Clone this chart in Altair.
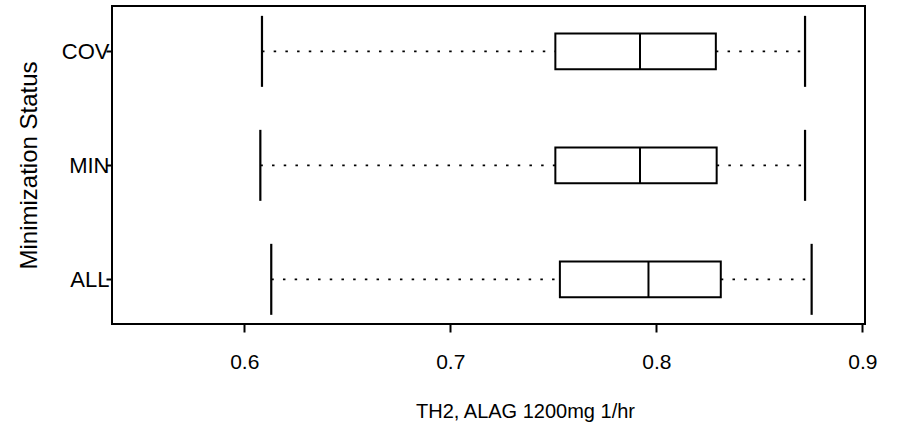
import altair as alt
import pandas as pd

groups = ["ALL", "MIN", "COV"]
group_pos = [1, 2, 3]
lower = [0.6131, 0.6078, 0.6086]
q1 = [0.7532, 0.7510, 0.7510]
median = [0.7962, 0.7921, 0.7921]
q3 = [0.8313, 0.8293, 0.8289]
upper = [0.8754, 0.8722, 0.8722]
x_ticks = [0.6, 0.7, 0.8, 0.9]

df = pd.DataFrame({"group": groups, "pos": group_pos, "lower": lower,
                   "q1": q1, "median": median, "q3": q3, "upper": upper})

FONT = "Liberation Sans"
W, H = 753, 318

xs = alt.Scale(domain=[0.5358, 0.9013], nice=False, zero=False)
ys = alt.Scale(domain=[0.652, 3.354], nice=False, zero=False)

label_expr = "datum.value == 1 ? 'ALL' : datum.value == 2 ? 'MIN' : 'COV'"

base = alt.Chart(df)

xax = alt.Axis(values=x_ticks, format=".1f", title="TH2, ALAG 1200mg 1/hr",
               tickSize=8, tickWidth=2, tickColor="black", domain=False, grid=False,
               labelFontSize=21, labelFont=FONT, labelColor="black", labelPadding=19,
               titleFontSize=20, titleFont=FONT, titleColor="black", titleFontWeight="normal",
               titleX=413, titleY=87, titleBaseline="middle", titleAlign="center")
yax = alt.Axis(values=group_pos, labelExpr=label_expr, title="Minimization Status",
               tickSize=6, tickWidth=2, tickColor="black", domain=False, grid=False,
               labelFontSize=22, labelFont=FONT, labelColor="black", labelPadding=-3,
               titleFontSize=24, titleFont=FONT, titleColor="black", titleFontWeight="normal",
               titleX=-83, titleY=159, titleBaseline="middle", titleAlign="center", titleAngle=270)

rule_lo = base.mark_rule(color="black", strokeWidth=1.6, strokeDash=[2.5, 9.2]).encode(
    x=alt.X("lower:Q", scale=xs, axis=xax), x2="q1:Q",
    y=alt.Y("pos:Q", scale=ys, axis=yax))
rule_hi = base.mark_rule(color="black", strokeWidth=1.6, strokeDash=[2.5, 9.2]).encode(
    x=alt.X("q3:Q", scale=xs), x2="upper:Q", y=alt.Y("pos:Q", scale=ys))
box = base.mark_bar(fill="white", stroke="black", strokeWidth=2, size=35.6, opacity=1).encode(
    x=alt.X("q1:Q", scale=xs), x2="q3:Q", y=alt.Y("pos:Q", scale=ys))
med = base.mark_tick(orient="vertical", color="black", thickness=2, size=35.6, opacity=1).encode(
    x=alt.X("median:Q", scale=xs), y=alt.Y("pos:Q", scale=ys))
wlo = base.mark_tick(orient="vertical", color="black", thickness=2.2, size=71, opacity=1).encode(
    x=alt.X("lower:Q", scale=xs), y=alt.Y("pos:Q", scale=ys))
whi = base.mark_tick(orient="vertical", color="black", thickness=2.2, size=71, opacity=1).encode(
    x=alt.X("upper:Q", scale=xs), y=alt.Y("pos:Q", scale=ys))

chart = alt.layer(rule_lo, rule_hi, box, med, wlo, whi).properties(
    width=W, height=H,
    autosize=alt.AutoSizeParams(type="none"),
    padding={"left": 112, "top": 6, "right": 37, "bottom": 109},
    background="white",
).configure_view(stroke="black", strokeWidth=2)

chart.save("out.html", embed_options={"renderer": "svg", "actions": False})
